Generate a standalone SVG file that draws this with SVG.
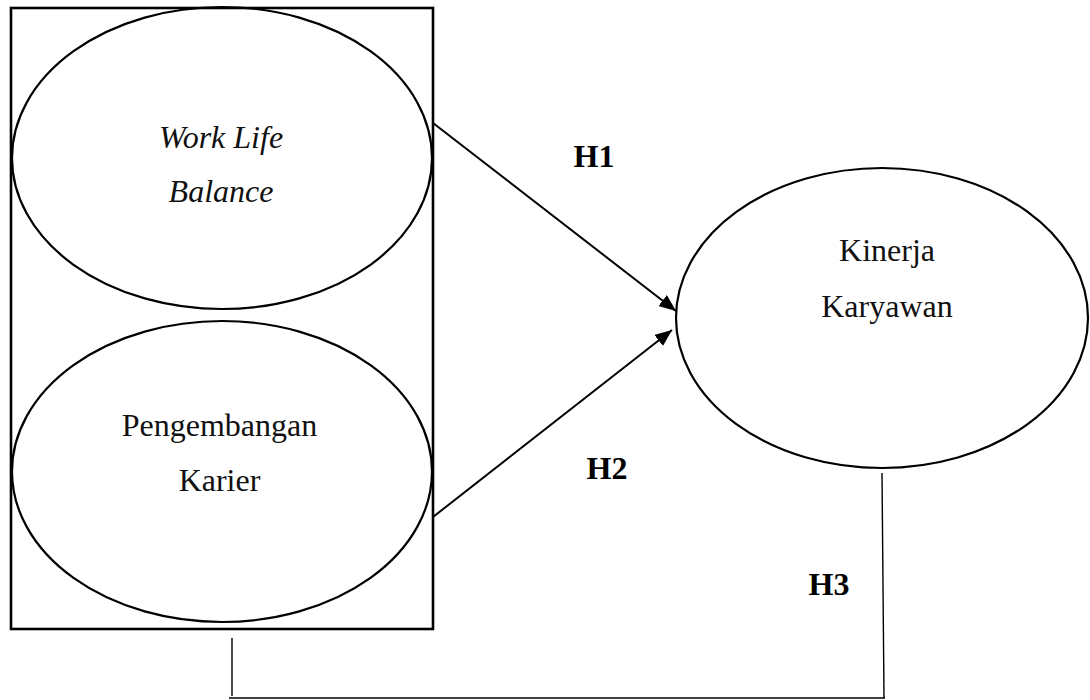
<svg xmlns="http://www.w3.org/2000/svg" width="1090" height="700" viewBox="0 0 1090 700">
<defs>
<style>
.shape{fill:none;stroke:#000;stroke-width:2.2}
.box{fill:none;stroke:#000;stroke-width:2.6}
.lbl{font-family:"Liberation Serif","Times New Roman",serif;font-size:32px;fill:#111;text-anchor:middle}
.it{font-style:italic}
.h{font-family:"Liberation Serif","Times New Roman",serif;font-size:32px;font-weight:bold;fill:#000;text-anchor:middle}
.arrow{stroke:#000;stroke-width:2;fill:none}
.thin{stroke:#000;stroke-width:1.4;fill:none}
</style>
<marker id="ah" markerUnits="userSpaceOnUse" markerWidth="18" markerHeight="14" refX="17" refY="7" orient="auto">
<path d="M0,0 L17,7 L0,14 Z" fill="#000"/>
</marker>
</defs>
<rect width="1090" height="700" fill="#fff"/>
<g id="group-box">
<rect class="box" x="11" y="8" width="422" height="621"/>
</g>
<g id="node-wlb">
<ellipse class="shape" cx="222" cy="158" rx="210" ry="151"/>
<text class="lbl it" x="221" y="148">Work Life</text>
<text class="lbl it" x="221" y="202">Balance</text>
</g>
<g id="node-pk">
<ellipse class="shape" cx="222" cy="471.5" rx="210" ry="150.5"/>
<text class="lbl" x="219.5" y="436">Pengembangan</text>
<text class="lbl" x="219.5" y="491">Karier</text>
</g>
<g id="node-kk">
<ellipse class="shape" cx="882" cy="318" rx="206" ry="150"/>
<text class="lbl" x="887" y="261">Kinerja</text>
<text class="lbl" x="887" y="317">Karyawan</text>
</g>
<g id="connectors">
<line class="arrow" x1="433" y1="123" x2="676" y2="311" marker-end="url(#ah)"/>
<line class="arrow" x1="433" y1="517" x2="672" y2="330" marker-end="url(#ah)"/>
<polyline class="thin" points="882,473 884,698"/>
<line class="thin" x1="229" y1="698" x2="885" y2="698"/>
<line class="thin" x1="232" y1="638" x2="232" y2="696"/>
</g>
<g id="labels">
<text class="h" x="594" y="167">H1</text>
<text class="h" x="607" y="479">H2</text>
<text class="h" x="829" y="595">H3</text>
</g>
</svg>
